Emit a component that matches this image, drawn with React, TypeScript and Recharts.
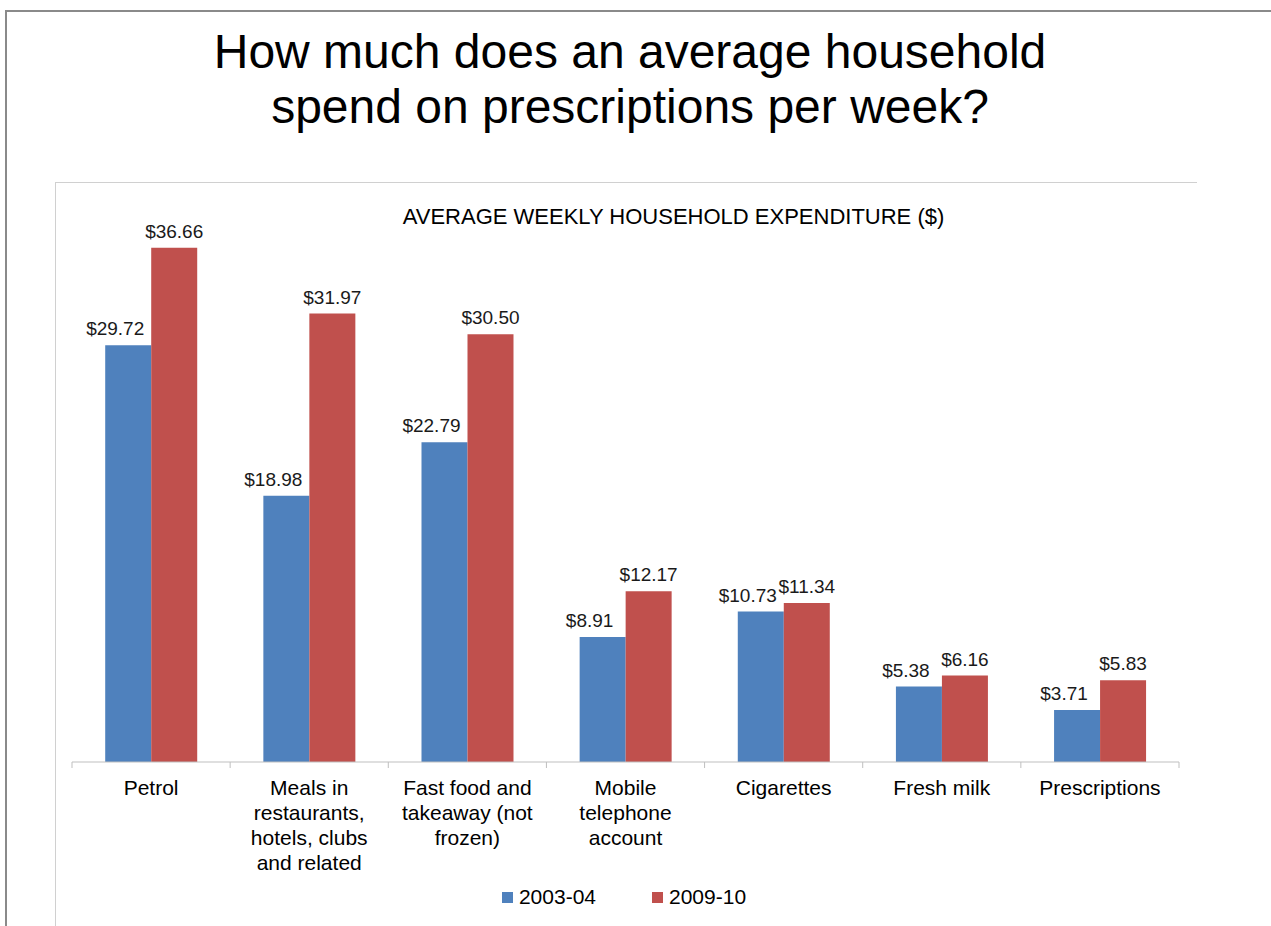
import { BarChart, Bar, XAxis, YAxis, LabelList } from 'recharts';

const categories = [
  'Petrol',
  'Meals in\nrestaurants,\nhotels, clubs\nand related',
  'Fast food and\ntakeaway (not\nfrozen)',
  'Mobile\ntelephone\naccount',
  'Cigarettes',
  'Fresh milk',
  'Prescriptions',
];
const spend2003 = [29.72, 18.98, 22.79, 8.91, 10.73, 5.38, 3.71];
const spend2009 = [36.66, 31.97, 30.5, 12.17, 11.34, 6.16, 5.83];
const seriesNames = ['2003-04', '2009-10'];
const colors = ['#4F81BD', '#C0504D'];

const data = categories.map((name, i) => ({
  name,
  a: spend2003[i],
  b: spend2009[i],
}));

const FONT = '"Liberation Sans", Arial, sans-serif';
const AXIS_GRAY = '#bfbfbf';
const CHART_W = 1141;
const CHART_H = 744;
const MARGIN = { top: 18, right: 18, left: 16, bottom: 55 };
const BAND = (CHART_W - MARGIN.left - MARGIN.right) / categories.length;

const money = (v: any) => `$${Number(v).toFixed(2)}`;
const labelStyle = { fontSize: 19, fill: '#1a1a1a', fontFamily: FONT };

const CategoryTick = (props: any) => {
  const { x, y, payload, index } = props;
  const lines = String(payload.value).split('\n');
  const half = BAND / 2;
  const last = index === categories.length - 1;
  return (
    <g>
      <line x1={x - half} x2={x - half} y1={y} y2={y + 6} stroke={AXIS_GRAY} />
      {last && <line x1={x + half} x2={x + half} y1={y} y2={y + 6} stroke={AXIS_GRAY} />}
      <text x={x} y={y + 33} textAnchor="middle" fontSize={21} fill="#000" fontFamily={FONT}>
        {lines.map((l, i) => (
          <tspan key={i} x={x} dy={i === 0 ? 0 : 25}>
            {l}
          </tspan>
        ))}
      </text>
    </g>
  );
};

export default function App() {
  return (
    <div
      style={{
        position: 'absolute',
        left: 0,
        top: 0,
        width: 1271,
        height: 926,
        background: '#fff',
        overflow: 'hidden',
        fontFamily: FONT,
      }}
    >
      {/* slide frame */}
      <div
        style={{
          position: 'absolute',
          left: 5,
          top: 10,
          width: 1300,
          height: 1000,
          borderLeft: '2px solid #8a8a8a',
          borderTop: '2px solid #8a8a8a',
        }}
      />
      <div
        style={{
          position: 'absolute',
          left: 0,
          top: 24,
          width: 1260,
          textAlign: 'center',
          fontSize: 48,
          lineHeight: '55px',
          color: '#000',
        }}
      >
        How much does an average household
        <br />
        spend on prescriptions per week?
      </div>

      {/* chart box */}
      <div
        style={{
          position: 'absolute',
          left: 55,
          top: 182,
          width: CHART_W,
          height: CHART_H + 10,
          borderLeft: '1px solid #d0d0d0',
          borderTop: '1px solid #d0d0d0',
        }}
      >
        <div
          style={{
            position: 'absolute',
            left: 0,
            top: 21,
            width: 1235,
            textAlign: 'center',
            fontSize: 22,
            color: '#000',
          }}
        >
          AVERAGE WEEKLY HOUSEHOLD EXPENDITURE ($)
        </div>
        <BarChart
          width={CHART_W}
          height={CHART_H}
          data={data}
          margin={MARGIN}
          barCategoryGap="21%"
          barGap={0}
        >
          <XAxis
            dataKey="name"
            interval={0}
            height={110}
            tickLine={false}
            tickSize={0}
            tickMargin={0}
            stroke={AXIS_GRAY}
            tick={<CategoryTick />}
          />
          <YAxis hide domain={[0, 40]} />
          <Bar dataKey="a" name={seriesNames[0]} fill={colors[0]} isAnimationActive={false}>
            <LabelList
              dataKey="a"
              position="top"
              offset={10}
              dx={-13}
              formatter={money}
              style={labelStyle}
            />
          </Bar>
          <Bar dataKey="b" name={seriesNames[1]} fill={colors[1]} isAnimationActive={false}>
            <LabelList
              dataKey="b"
              position="top"
              offset={10}
              formatter={money}
              style={labelStyle}
            />
          </Bar>
        </BarChart>
      </div>

      {/* legend */}
      <div
        style={{
          position: 'absolute',
          left: 0,
          top: 884,
          width: 1248,
          display: 'flex',
          justifyContent: 'center',
          gap: 56,
          fontSize: 21,
          lineHeight: '26px',
          color: '#000',
        }}
      >
        {seriesNames.map((s, i) => (
          <div key={s} style={{ display: 'flex', alignItems: 'center' }}>
            <span
              style={{
                display: 'inline-block',
                width: 11,
                height: 11,
                background: colors[i],
                marginRight: 6,
              }}
            />
            {s}
          </div>
        ))}
      </div>
    </div>
  );
}
